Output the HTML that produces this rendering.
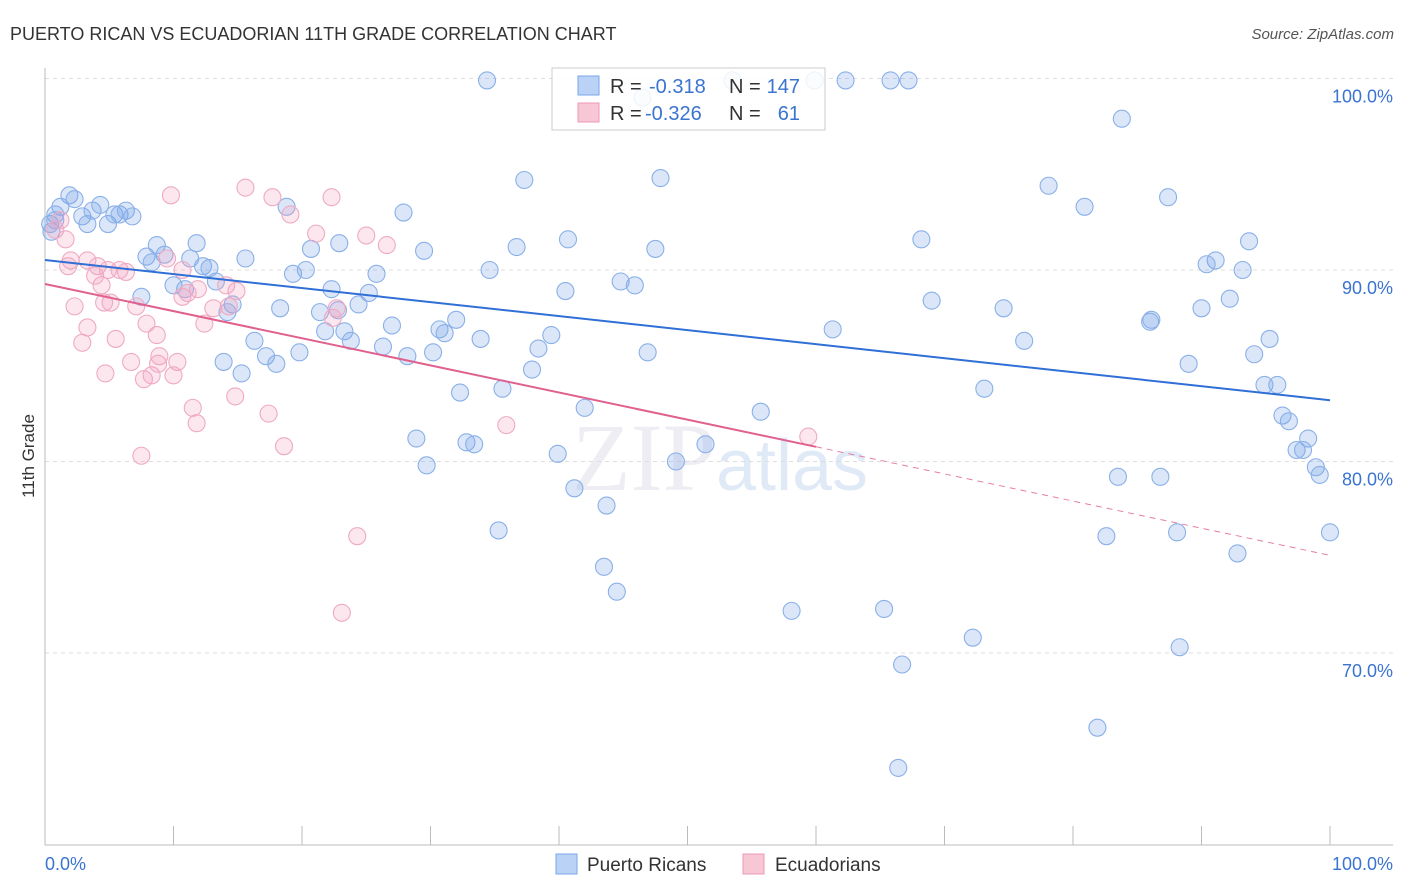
<!DOCTYPE html>
<html><head><meta charset="utf-8"><style>
body{margin:0;background:#fff;font-family:"Liberation Sans",sans-serif}
svg{display:block}
</style></head><body>
<svg id="chart" width="1406" height="892">
<text x="10" y="40" font-size="18" fill="#333">PUERTO RICAN VS ECUADORIAN 11TH GRADE CORRELATION CHART</text>
<text x="1394" y="39" font-size="15" fill="#555" font-style="italic" text-anchor="end">Source: ZipAtlas.com</text>
<text x="34" y="456" font-size="17" fill="#333" transform="rotate(-90 34 456)" text-anchor="middle">11th Grade</text>
<text x="720" y="490" font-size="96" fill="#ccd" opacity="0.35" text-anchor="middle" font-family="Liberation Serif,serif">ZIP<tspan fill="#a8c4ea" font-family="Liberation Sans,sans-serif" font-size="72">atlas</tspan></text>
<g id="grid"></g><g id="marks"></g>
<g>
<rect x="552" y="68" width="273" height="62" fill="#fff" fill-opacity="0.85" stroke="#ccc"/>
<rect x="578" y="76" width="21" height="19" fill="#b9d2f5" stroke="#7aa6e6"/>
<rect x="578" y="103" width="21" height="19" fill="#f8c7d6" stroke="#ec9ab5"/>
<text x="610" y="93" font-size="20" fill="#333">R =</text>
<text x="649" y="93" font-size="20" fill="#3a74d0">-0.318</text>
<text x="729" y="93" font-size="20" fill="#333">N =</text>
<text x="800" y="93" font-size="20" fill="#3a74d0" text-anchor="end">147</text>
<text x="610" y="120" font-size="20" fill="#333">R =</text>
<text x="645" y="120" font-size="20" fill="#3a74d0">-0.326</text>
<text x="729" y="120" font-size="20" fill="#333">N =</text>
<text x="800" y="120" font-size="20" fill="#3a74d0" text-anchor="end">61</text>
</g>
<g>
<rect x="556" y="854" width="21" height="20" fill="#b9d2f5" stroke="#7aa6e6"/>
<text x="587" y="871" font-size="19" fill="#333">Puerto Ricans</text>
<rect x="743" y="854" width="21" height="20" fill="#f8c7d6" stroke="#ec9ab5"/>
<text x="775" y="871" font-size="19" fill="#333">Ecuadorians</text>
</g>
</svg>
<script>
const blueData=[[34.4,99.9],[53.5,99.9],[62.3,99.9],[65.8,99.9],[67.2,99.9],[59.9,99.9],[46.5,99.0],[83.8,97.9],[37.3,94.7],[47.9,94.8],[78.1,94.4],[80.9,93.3],[87.4,93.8],[27.9,93.0],[18.8,93.3],[40.7,91.6],[36.7,91.2],[47.5,91.1],[68.2,91.6],[93.7,91.5],[91.1,90.5],[90.4,90.3],[93.2,90.0],[29.5,91.0],[22.9,91.4],[20.7,91.1],[11.8,91.4],[8.7,91.3],[9.3,90.8],[7.9,90.7],[8.3,90.4],[11.3,90.6],[15.6,90.6],[12.3,90.2],[12.8,90.1],[19.3,89.8],[20.3,90.0],[25.8,89.8],[34.6,90.0],[40.5,88.9],[44.8,89.4],[45.9,89.2],[69.0,88.4],[74.6,88.0],[90.0,88.0],[92.2,88.5],[7.5,88.6],[10.0,89.2],[10.9,89.0],[13.3,89.4],[14.6,88.2],[14.2,87.8],[18.3,88.0],[21.4,87.8],[22.3,89.0],[22.8,87.9],[25.2,88.8],[24.4,88.2],[27.0,87.1],[21.8,86.8],[23.3,86.8],[23.8,86.3],[26.3,86.0],[30.7,86.9],[31.1,86.7],[32.0,87.4],[33.9,86.4],[39.4,86.6],[38.4,85.9],[46.9,85.7],[61.3,86.9],[76.2,86.3],[86.0,87.3],[86.1,87.4],[95.3,86.4],[94.1,85.6],[89.0,85.1],[16.3,86.3],[19.8,85.7],[13.9,85.2],[15.3,84.6],[17.2,85.5],[18.0,85.1],[28.2,85.5],[30.2,85.7],[32.3,83.6],[35.6,83.8],[37.9,84.8],[42.0,82.8],[55.7,82.6],[73.1,83.8],[94.9,84.0],[95.9,84.0],[96.3,82.4],[96.8,82.1],[98.3,81.2],[97.4,80.6],[97.9,80.6],[98.9,79.7],[99.2,79.3],[100,76.3],[83.5,79.2],[86.8,79.2],[82.6,76.1],[88.1,76.3],[92.8,75.2],[28.9,81.2],[32.8,81.0],[33.4,80.9],[29.7,79.8],[39.9,80.4],[49.1,80.0],[51.4,80.9],[41.2,78.6],[43.7,77.7],[35.3,76.4],[43.5,74.5],[44.5,73.2],[58.1,72.2],[65.3,72.3],[72.2,70.8],[88.3,70.3],[66.7,69.4],[81.9,66.1],[66.4,64.0],[1.9,93.9],[1.2,93.3],[2.3,93.7],[0.8,92.9],[2.9,92.8],[3.7,93.1],[4.3,93.4],[4.9,92.4],[3.3,92.4],[5.4,92.9],[5.8,92.9],[6.3,93.1],[6.8,92.8],[0.4,92.4],[0.8,92.6],[0.5,92.0]];
const pinkData=[[9.8,93.9],[15.6,94.3],[17.7,93.8],[22.3,93.8],[19.1,92.9],[21.1,91.9],[25.0,91.8],[26.6,91.3],[1.2,92.6],[0.8,92.1],[1.6,91.6],[2.0,90.5],[1.8,90.2],[3.3,90.5],[4.1,90.2],[4.9,90.0],[5.8,90.0],[6.3,89.9],[9.5,90.6],[10.7,90.0],[11.9,89.0],[10.7,88.6],[14.1,89.2],[14.9,88.9],[4.4,89.2],[2.3,88.1],[3.3,87.0],[2.9,86.2],[5.1,88.3],[7.1,88.1],[7.9,87.2],[8.7,86.6],[5.5,86.4],[6.7,85.2],[4.7,84.6],[7.7,84.3],[8.3,84.5],[8.9,85.5],[8.8,85.1],[10.3,85.2],[10.0,84.5],[12.4,87.2],[13.1,88.0],[14.3,88.1],[11.5,82.8],[11.8,82.0],[14.8,83.4],[17.4,82.5],[18.6,80.8],[7.5,80.3],[22.4,87.5],[22.7,88.0],[35.9,81.9],[59.4,81.3],[24.3,76.1],[23.1,72.1],[3.9,89.7],[4.6,88.3],[11.1,88.8]];
const yTicks=[100,90,80,70];
const yTickLabels=["100.0%","90.0%","80.0%","70.0%"];
const xTicks=[0,10,20,30,40,50,60,70,80,90,100];
const blueTrend=[90.52,83.2];
const pinkTrend=[89.27,75.1];
const pinkSolidEnd=60;

const NS="http://www.w3.org/2000/svg";
const X=v=>45+v*12.85, Y=v=>78.5+(100-v)*19.15;
function mk(tag,attrs,parent){const e=document.createElementNS(NS,tag);for(const k in attrs)e.setAttribute(k,attrs[k]);parent.appendChild(e);return e;}
const grid=document.getElementById('grid'), marks=document.getElementById('marks');
yTicks.forEach((t,i)=>{
  const l=mk('line',{x1:45,x2:1393,y1:Y(t),y2:Y(t),stroke:'#ddd','stroke-dasharray':'4,4'},grid);
  
  
  const tx=mk('text',{x:1393,y:Y(t)+24,'font-size':18,fill:'#3a74d0','text-anchor':'end'},grid);
  tx.textContent=yTickLabels[i];
  
  
});
const ax=mk('line',{x1:45,x2:45,y1:68,y2:845,stroke:'#bbb'},grid);


const bx=mk('line',{x1:45,x2:1393,y1:845,y2:845,stroke:'#bbb'},grid);


xTicks.forEach(t=>{
  const l=mk('line',{x1:X(t),x2:X(t),y1:826,y2:845,stroke:'#bbb'},grid);
  
  
});
const xl0=mk('text',{x:45,y:870,'font-size':18,fill:'#3a74d0'},grid);xl0.textContent='0.0%';


const xl1=mk('text',{x:1393,y:870,'font-size':18,fill:'#3a74d0','text-anchor':'end'},grid);xl1.textContent='100.0%';



blueData.forEach(d=>{
  const c=mk('circle',{cx:X(d[0]),cy:Y(d[1]),r:8.5,fill:'rgba(110,160,232,0.25)',stroke:'#8ab0e8','stroke-width':1.1},marks);
  
  
});
pinkData.forEach(d=>{
  const c=mk('circle',{cx:X(d[0]),cy:Y(d[1]),r:8.5,fill:'rgba(244,160,190,0.25)',stroke:'#efaac2','stroke-width':1.1},marks);
  
  
});
const bt=mk('line',{x1:X(0),y1:Y(blueTrend[0]),x2:X(100),y2:Y(blueTrend[1]),stroke:'#2f6fd6','stroke-width':2},marks);


const pm=pinkTrend[0]+(pinkTrend[1]-pinkTrend[0])*pinkSolidEnd/100;
const pt=mk('line',{x1:X(0),y1:Y(pinkTrend[0]),x2:X(pinkSolidEnd),y2:Y(pm),stroke:'#e0608e','stroke-width':2},marks);


const pd=mk('line',{x1:X(pinkSolidEnd),y1:Y(pm),x2:X(100),y2:Y(pinkTrend[1]),stroke:'#e67fa3','stroke-width':1,'stroke-dasharray':'6,5'},marks);


</script>
</body></html>
